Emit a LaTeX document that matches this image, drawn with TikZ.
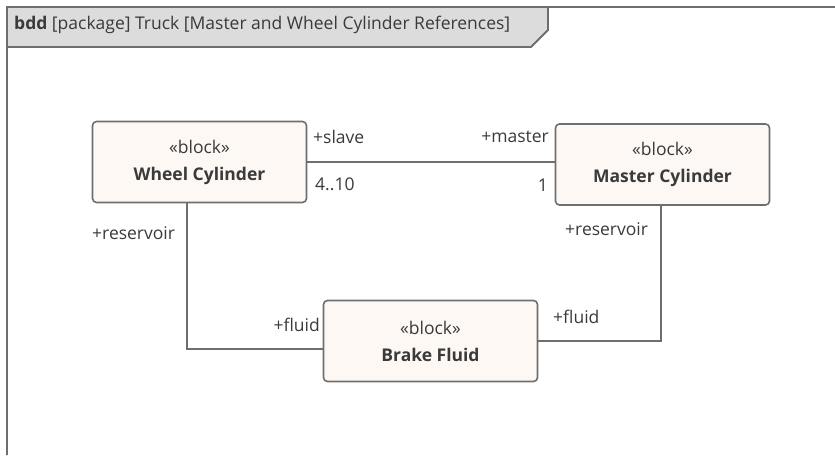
\documentclass[tikz,border=0pt]{standalone}
\usepackage{fontspec}
\setmainfont{Open Sans}
\usepackage{xcolor}
\usetikzlibrary{positioning}

\definecolor{blockfill}{HTML}{FDF8F4}
\definecolor{lineg}{HTML}{6E6E6E}
\definecolor{textg}{HTML}{3A3A3A}
\definecolor{headfill}{HTML}{DCDCDC}

\begin{document}
\begin{tikzpicture}[
  x=1pt, y=-1pt,
  block/.style={draw=lineg, line width=1.6pt, rounded corners=4pt, fill=blockfill, align=center,
    minimum width=214pt, minimum height=81pt, inner sep=0pt, text=textg,
    font=\fontsize{17.5}{27}\selectfont},
  conn/.style={draw=lineg, line width=1.6pt},
  role/.style={text=textg, inner sep=0pt, font=\fontsize{17.5}{19}\selectfont}
]
\useasboundingbox (0,0) rectangle (835,455);
% frame and header tab
\draw[lineg, line width=1.8pt, fill=headfill] (7,455) -- (7,7) -- (548,7) -- (548,30) -- (531,47) -- (7,47);
\draw[lineg, line width=1.8pt] (548,7) -- (835,7);
\node[role, anchor=west] (title) at (14,25) {\textbf{bdd} [package] Truck [Master and Wheel Cylinder References]};
% blocks
\node[block] (wheel) at (199.5,162) {«block»\\\textbf{Wheel Cylinder}};
\node[block] (master) at (662.5,164.5) {«block»\\\textbf{Master Cylinder}};
\node[block] (fluid) at (430.5,341) {«block»\\\textbf{Brake Fluid}};
% connectors
\coordinate (wcorner) at (187,349);
\coordinate (mcorner) at (661,341);
\draw[conn] (wheel.east |- 0,162) -- (master.west |- 0,162);
\draw[conn] (wheel.south -| wcorner) -- (wcorner) -- (fluid.west |- wcorner);
\draw[conn] (master.south -| mcorner) -- (mcorner) -- (fluid.east |- mcorner);
% role names and multiplicities
\node[role, anchor=west] (slave) at (313,137) {+slave};
\node[role, anchor=west] (mslave) at (315,184) {4..10};
\node[role, anchor=east] (mast) at (549,137) {+master};
\node[role, anchor=east] (mmast) at (548,185) {1};
\node[role, anchor=west] (wres) at (92,233) {+reservoir};
\node[role, anchor=west] (mres) at (565,229) {+reservoir};
\node[role, anchor=east] (wfl) at (320,325) {+fluid};
\node[role, anchor=west] (mfl) at (553,317) {+fluid};
\end{tikzpicture}
\end{document}
